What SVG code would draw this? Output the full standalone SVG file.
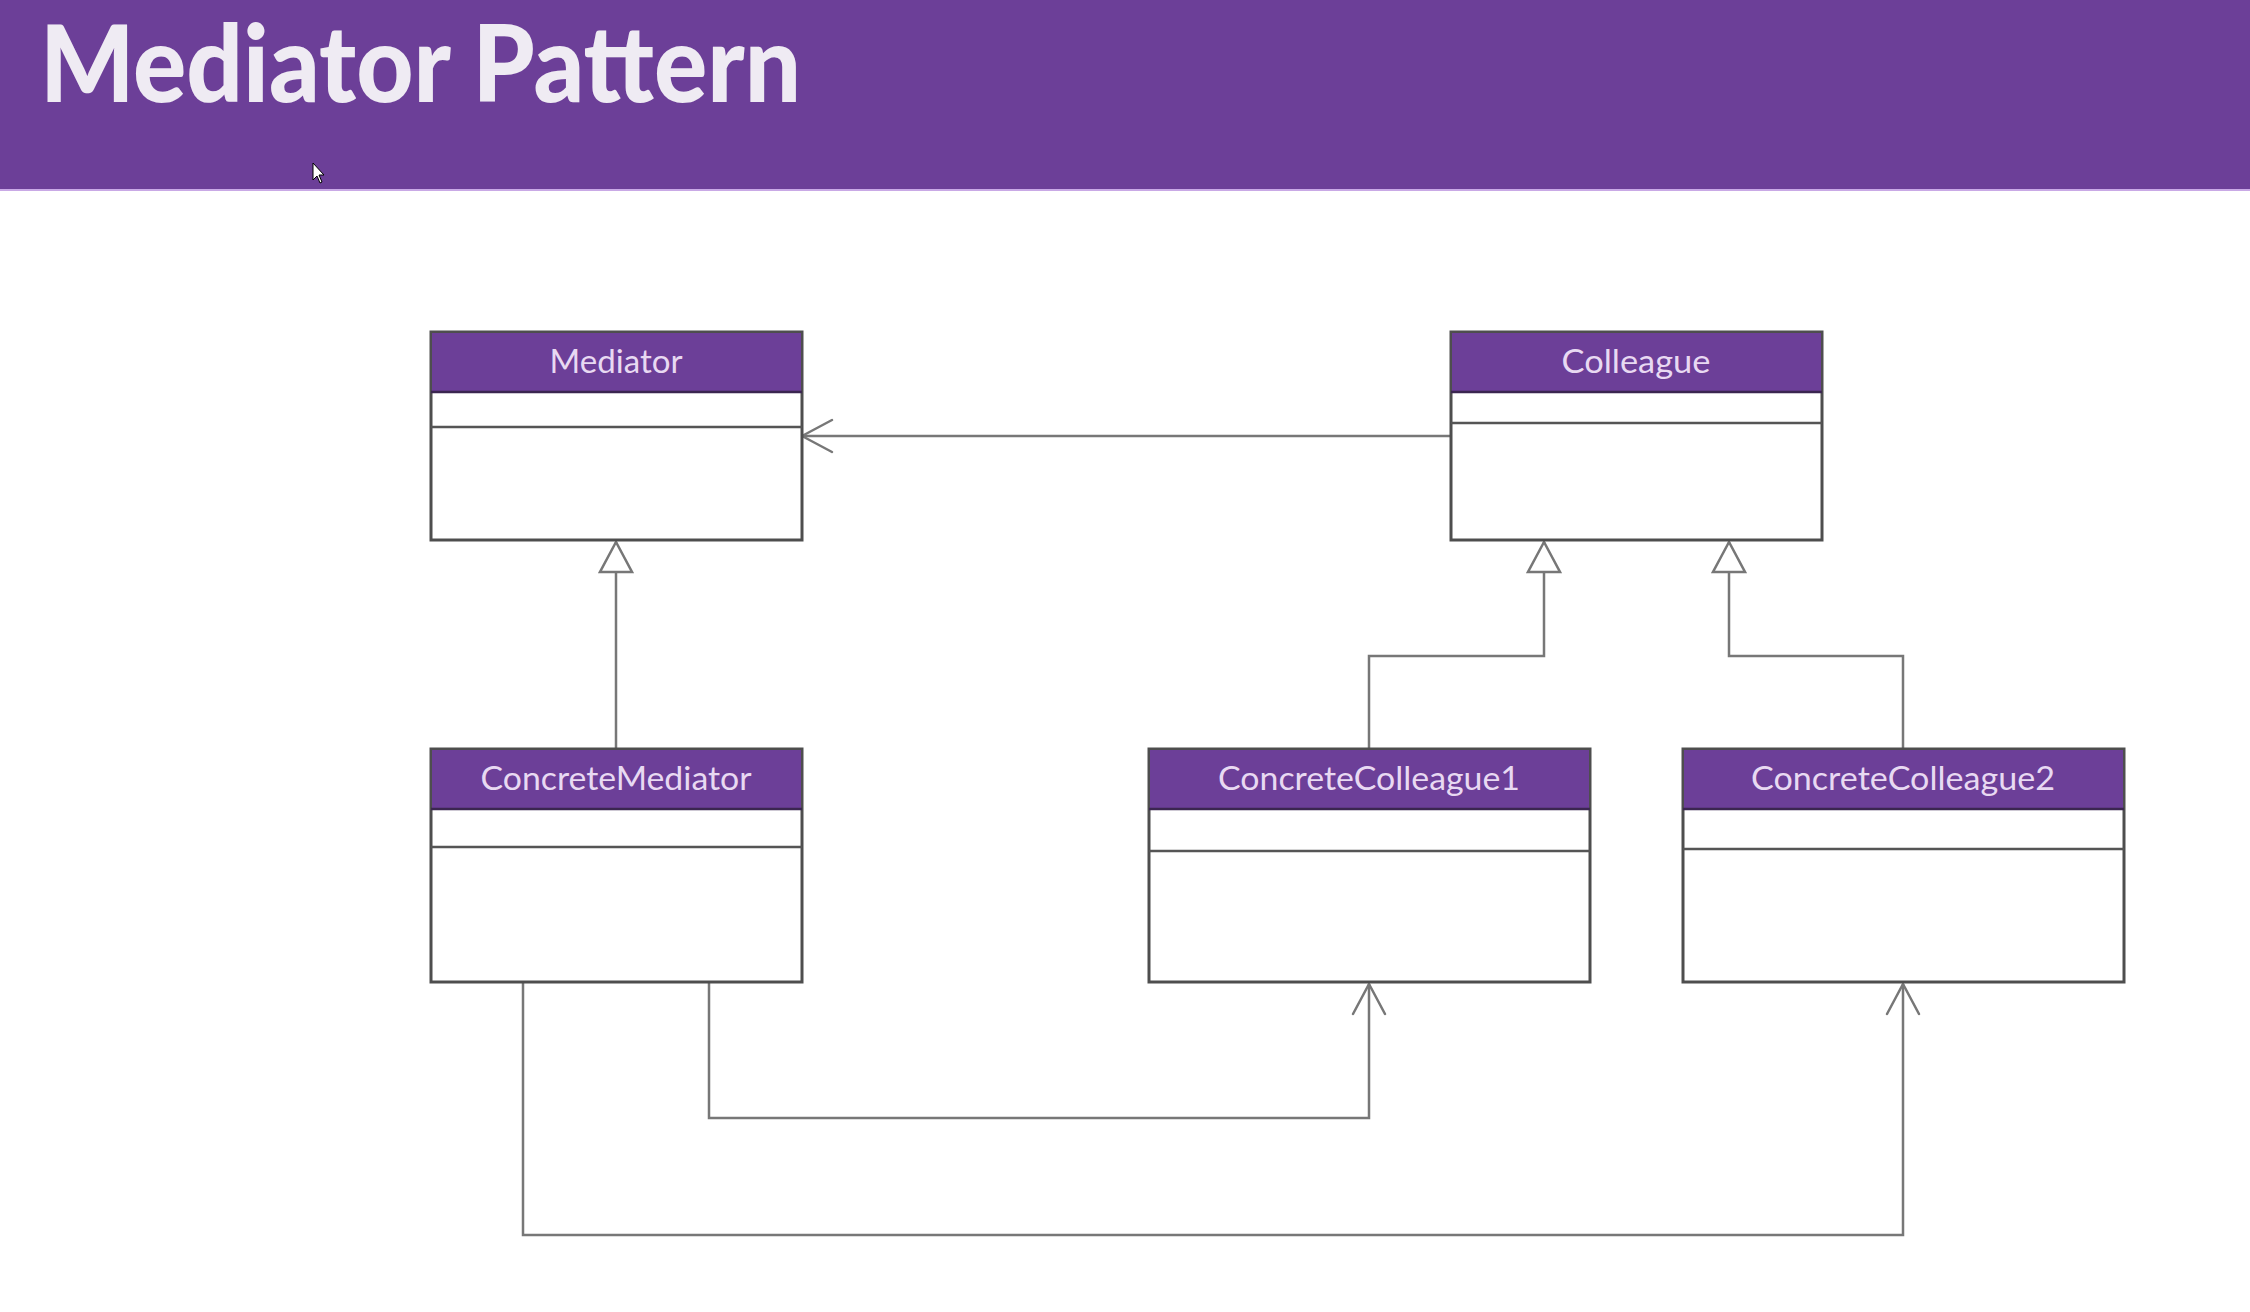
<svg xmlns="http://www.w3.org/2000/svg" width="2250" height="1312" viewBox="0 0 2250 1312">
  <defs>
    <style>
      .box { fill: #ffffff; stroke: #4e4e4e; stroke-width: 3; }
      .hdr { fill: #6c3f98; stroke: none; }
      .hdrline { stroke: #3b2650; stroke-width: 2.5; }
      .div { stroke: #555555; stroke-width: 2.5; }
      .lbl { font-family: Lato, "Noto Sans", sans-serif; font-size: 33px; fill: #e8d9f2; text-anchor: middle; }
      .title { font-family: Lato, "Noto Sans", sans-serif; font-size: 106px; font-weight: 900; fill: #efebf3; }
      .conn { fill: none; stroke: #777777; stroke-width: 2.5; stroke-linejoin: miter; }
    </style>
    <marker id="tri" viewBox="-2 -2 34 36" refX="30" refY="16" markerWidth="34" markerHeight="36" markerUnits="userSpaceOnUse" orient="auto">
      <path d="M30,16 L0,0 L0,32 Z" fill="#ffffff" stroke="#777777" stroke-width="2.5" stroke-linejoin="miter"/>
    </marker>
    <marker id="open" viewBox="-2 -2 34 36" refX="30" refY="16" markerWidth="34" markerHeight="36" markerUnits="userSpaceOnUse" orient="auto">
      <path d="M0,0 L30,16 L0,32" fill="none" stroke="#777777" stroke-width="2.5" stroke-linejoin="round" stroke-linecap="round"/>
    </marker>
  </defs>

  <rect x="0" y="0" width="2250" height="1312" fill="#ffffff"/>

  <g id="banner">
    <rect x="0" y="0" width="2250" height="190" fill="#6c3f98"/>
    <line x1="0" y1="190" x2="2250" y2="190" stroke="#c9a9e6" stroke-width="2"/>
    <text class="title" x="40" y="102" textLength="761" lengthAdjust="spacingAndGlyphs">Mediator Pattern</text>
    <path d="M313,163 L313,180 L317,176 L320,183 L322,182 L319,175 L324,175 Z" fill="#ffffff" stroke="#000000" stroke-width="1"/>
  </g>

  <g id="connectors">
    <path class="conn" d="M1451,436 L802,436" marker-end="url(#open)"/>
    <path class="conn" d="M616,749 L616,542" marker-end="url(#tri)"/>
    <path class="conn" d="M1369,749 L1369,656 L1544,656 L1544,542" marker-end="url(#tri)"/>
    <path class="conn" d="M1903,749 L1903,656 L1729,656 L1729,542" marker-end="url(#tri)"/>
    <path class="conn" d="M709,982 L709,1118 L1369,1118 L1369,984" marker-end="url(#open)"/>
    <path class="conn" d="M523,982 L523,1235 L1903,1235 L1903,984" marker-end="url(#open)"/>
  </g>

  <g id="node-mediator">
    <rect class="box" x="431" y="332" width="371" height="208"/>
    <rect class="hdr" x="432" y="333" width="369" height="59"/>
    <line class="hdrline" x1="431" y1="392" x2="802" y2="392"/>
    <line class="div" x1="431" y1="427" x2="802" y2="427"/>
    <text class="lbl" x="616" y="373" textLength="133" lengthAdjust="spacingAndGlyphs">Mediator</text>
  </g>

  <g id="node-colleague">
    <rect class="box" x="1451" y="332" width="371" height="208"/>
    <rect class="hdr" x="1452" y="333" width="369" height="59"/>
    <line class="hdrline" x1="1451" y1="392" x2="1822" y2="392"/>
    <line class="div" x1="1451" y1="423" x2="1822" y2="423"/>
    <text class="lbl" x="1636" y="373" textLength="149" lengthAdjust="spacingAndGlyphs">Colleague</text>
  </g>

  <g id="node-concretemediator">
    <rect class="box" x="431" y="749" width="371" height="233"/>
    <rect class="hdr" x="432" y="750" width="369" height="59"/>
    <line class="hdrline" x1="431" y1="809" x2="802" y2="809"/>
    <line class="div" x1="431" y1="847" x2="802" y2="847"/>
    <text class="lbl" x="616" y="790" textLength="271" lengthAdjust="spacingAndGlyphs">ConcreteMediator</text>
  </g>

  <g id="node-concretecolleague1">
    <rect class="box" x="1149" y="749" width="441" height="233"/>
    <rect class="hdr" x="1150" y="750" width="439" height="59"/>
    <line class="hdrline" x1="1149" y1="809" x2="1590" y2="809"/>
    <line class="div" x1="1149" y1="851" x2="1590" y2="851"/>
    <text class="lbl" x="1369" y="790" textLength="302" lengthAdjust="spacingAndGlyphs">ConcreteColleague1</text>
  </g>

  <g id="node-concretecolleague2">
    <rect class="box" x="1683" y="749" width="441" height="233"/>
    <rect class="hdr" x="1684" y="750" width="439" height="59"/>
    <line class="hdrline" x1="1683" y1="809" x2="2124" y2="809"/>
    <line class="div" x1="1683" y1="849" x2="2124" y2="849"/>
    <text class="lbl" x="1903" y="790" textLength="304" lengthAdjust="spacingAndGlyphs">ConcreteColleague2</text>
  </g>
</svg>
